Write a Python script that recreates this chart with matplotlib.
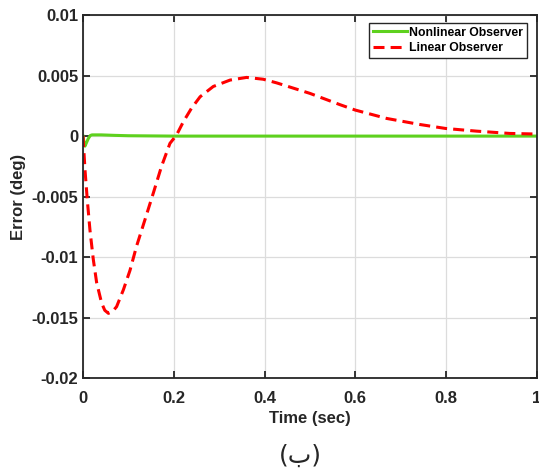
import numpy as np
import matplotlib.pyplot as plt

# --- Data ---
t_lin = [0.0, 0.0044, 0.0095, 0.0154, 0.0227, 0.030, 0.041, 0.048, 0.056, 0.065, 0.074,
         0.089, 0.1035, 0.118, 0.1366, 0.155, 0.173, 0.1916, 0.206, 0.221, 0.239, 0.258,
         0.287, 0.324, 0.3605, 0.397, 0.4266, 0.5, 0.566, 0.6, 0.669, 0.742, 0.799,
         0.867, 0.94, 1.0]
e_lin = [0.0, -0.0028, -0.0053, -0.0078, -0.0102, -0.0121, -0.0138, -0.0144, -0.01465,
         -0.0145, -0.0141, -0.0127, -0.0111, -0.0091, -0.0069, -0.0047, -0.0025, -0.0006,
         0.00008, 0.00118, 0.0023, 0.00325, 0.0041, 0.00463, 0.00485, 0.0047, 0.0044,
         0.00353, 0.0026, 0.00215, 0.00146, 0.00096, 0.00063, 0.00041, 0.00022, 0.00017]

t_nl = [0.0, 0.002, 0.0044, 0.007, 0.0117, 0.016, 0.02, 0.04, 0.07, 0.1, 0.2, 0.6, 1.0]
e_nl = [0.0, -0.0005, -0.00083, -0.0006, -0.0002, 0.00005, 0.0001, 0.0001, 0.00006,
        0.00003, 0.0, 0.0, 0.0]

xticks = [0, 0.2, 0.4, 0.6, 0.8, 1]
xtick_labels = ['0', '0.2', '0.4', '0.6', '0.8', '1']
yticks = [-0.02, -0.015, -0.01, -0.005, 0, 0.005, 0.01]
ytick_labels = ['-0.02', '-0.015', '-0.01', '-0.005', '0', '0.005', '0.01']

plt.rcParams['font.family'] = ['Liberation Sans', 'DejaVu Sans']
plt.rcParams['font.weight'] = 'bold'

fig = plt.figure(figsize=(5.39, 4.72), dpi=100)
ax = fig.add_axes([0.154, 0.199, 0.842, 0.769])

ax.plot(t_nl, e_nl, color='#5ed11e', lw=2.2, label='Nonlinear Observer')
ax.plot(t_lin, e_lin, color='#ff0000', lw=2.2, ls=(0, (3.6, 2.0)), label='Linear Observer')

ax.set_xlim(0, 1)
ax.set_ylim(-0.02, 0.01)
ax.set_xticks(xticks)
ax.set_xticklabels(xtick_labels)
ax.set_yticks(yticks)
ax.set_yticklabels(ytick_labels)
ax.tick_params(direction='in', length=5, width=1.3, top=True, right=True,
               labelsize=12, colors='#262626')
ax.tick_params(axis='x', pad=9)
ax.tick_params(axis='y', pad=3.5)
for lab in ax.get_xticklabels() + ax.get_yticklabels():
    lab.set_fontweight('bold')
for s in ax.spines.values():
    s.set_linewidth(1.3)
    s.set_color('#262626')
ax.grid(True, color='#dcdcdc', lw=0.9)
ax.set_axisbelow(True)

ax.set_xlabel('Time (sec)', fontsize=12, fontweight='bold', color='#262626', labelpad=4)
ax.set_ylabel('Error (deg)', fontsize=12, fontweight='bold', color='#262626', labelpad=4)

leg = ax.legend(loc='upper right', bbox_to_anchor=(0.978, 0.978), frameon=True, fancybox=False,
                edgecolor='#262626', framealpha=1, borderaxespad=0,
                handlelength=2.8, handletextpad=0.2, borderpad=0.3, labelspacing=0.3,
                prop={'weight': 'bold', 'size': 8.8})
leg.get_frame().set_linewidth(1.0)

fig.text(0.557, 0.008, '(ب)', fontsize=18, family=['DejaVu Sans'], ha='center', va='bottom',
         fontweight='normal', color='#262626')

fig.savefig('out.png', dpi=100)
